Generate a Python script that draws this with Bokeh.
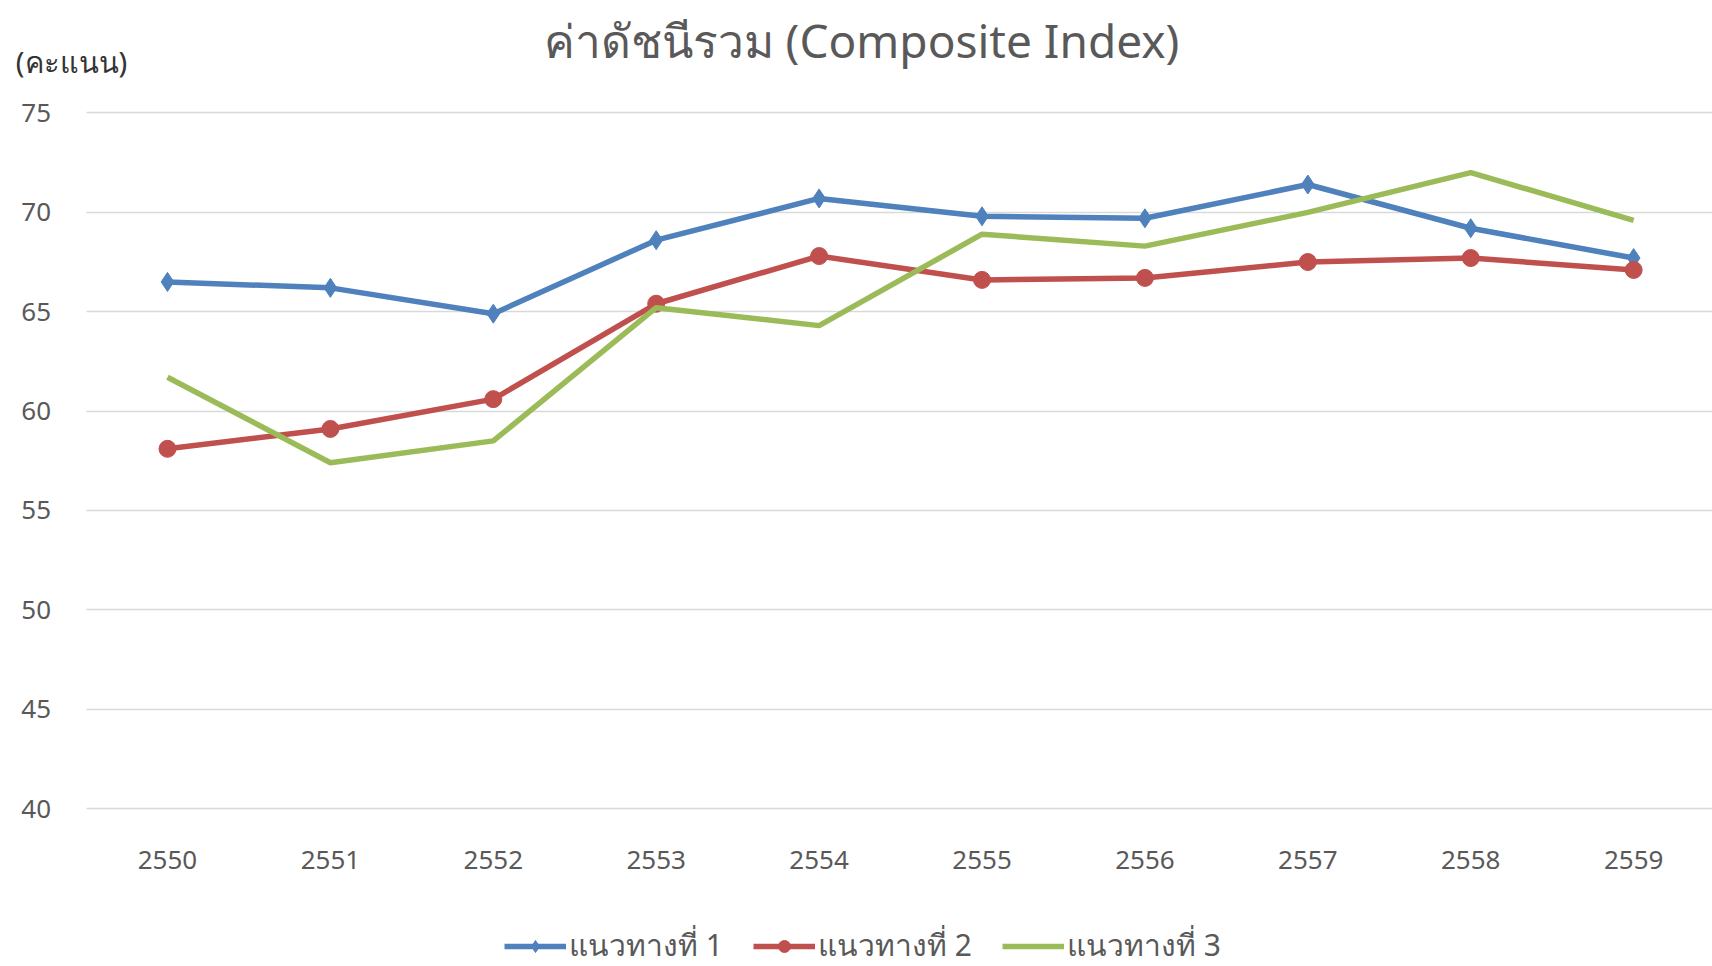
from bokeh.plotting import figure
from bokeh.models import Range1d, Legend, LegendItem, Label, FixedTicker
from bokeh.embed import file_html
from bokeh.resources import INLINE

years = [2550, 2551, 2552, 2553, 2554, 2555, 2556, 2557, 2558, 2559]
year_labels = ["2550", "2551", "2552", "2553", "2554", "2555", "2556", "2557", "2558", "2559"]
series1 = [66.5, 66.2, 64.9, 68.6, 70.7, 69.8, 69.7, 71.4, 69.2, 67.7]
series2 = [58.1, 59.1, 60.6, 65.4, 67.8, 66.6, 66.7, 67.5, 67.7, 67.1]
series3 = [61.7, 57.4, 58.5, 65.2, 64.3, 68.9, 68.3, 70.0, 72.0, 69.6]
names = ["แนวทางที่ 1", "แนวทางที่ 2", "แนวทางที่ 3"]
title_text = "ค่าดัชนีรวม (Composite Index)"
unit_text = "(คะแนน)"
y_ticks = [40, 45, 50, 55, 60, 65, 70, 75]

BLUE = "#4F81BD"
RED = "#C0504D"
GREEN = "#9BBB59"
GREY = "#595959"
FONT = "Noto Sans"

W, H = 1712, 966
X0, X1 = 2548.975, 2559.484
Y0, Y1 = 32.05, 80.66

p = figure(width=W, height=H, output_backend="svg", toolbar_location=None,
           x_range=Range1d(X0, X1), y_range=Range1d(Y0, Y1), min_border=0)
p.outline_line_color = None
p.background_fill_color = "white"
p.border_fill_color = "white"

# axes placed inside the frame
p.xaxis.fixed_location = y_ticks[0]
p.yaxis.fixed_location = years[0] - 0.5
p.xaxis.ticker = FixedTicker(ticks=years)
p.xaxis.major_label_overrides = {y: l for y, l in zip(years, year_labels)}
p.yaxis.ticker = FixedTicker(ticks=y_ticks)
for ax in (p.xaxis, p.yaxis):
    ax.axis_line_color = None
    ax.major_tick_line_color = None
    ax.minor_tick_line_color = None
    ax.major_label_text_font = FONT
    ax.major_label_text_font_size = "26px"
    ax.major_label_text_color = GREY
p.xaxis.major_label_standoff = 36
p.yaxis.major_label_standoff = 29
p.xgrid.grid_line_color = None
p.ygrid.ticker = FixedTicker(ticks=y_ticks)
p.ygrid.grid_line_color = "#D9D9D9"
p.ygrid.grid_line_width = 1.5
p.ygrid.cross_bounds = (years[0] - 0.5, X1)

r1 = p.line(years, series1, line_color=BLUE, line_width=5.5)
m1 = p.scatter(years, series1, marker="diamond", size=19, fill_color=BLUE, line_color=BLUE)
r2 = p.line(years, series2, line_color=RED, line_width=5.5)
m2 = p.scatter(years, series2, marker="circle", size=17, fill_color=RED, line_color=RED)
r3 = p.line(years, series3, line_color=GREEN, line_width=5.5)

legend = Legend(items=[LegendItem(label=names[0], renderers=[r1, m1]),
                       LegendItem(label=names[1], renderers=[r2, m2]),
                       LegendItem(label=names[2], renderers=[r3])],
                orientation="horizontal", location=(504, -3),
                label_text_font=FONT, label_text_font_size="30px",
                label_text_color=GREY, glyph_width=62, glyph_height=30,
                spacing=30, border_line_color=None, background_fill_alpha=0,
                label_standoff=3, margin=0, padding=0)
p.add_layout(legend, "center")

p.add_layout(Label(x=861, y=927, x_units="screen", y_units="screen", text=title_text,
                   text_align="center", text_baseline="middle", text_font=FONT,
                   text_font_size="46px", text_color=GREY))
p.add_layout(Label(x=71, y=905, x_units="screen", y_units="screen", text=unit_text,
                   text_align="center", text_baseline="middle", text_font=FONT,
                   text_font_size="29px", text_color="#333333"))

open("out.html", "w").write(file_html(p, INLINE))
